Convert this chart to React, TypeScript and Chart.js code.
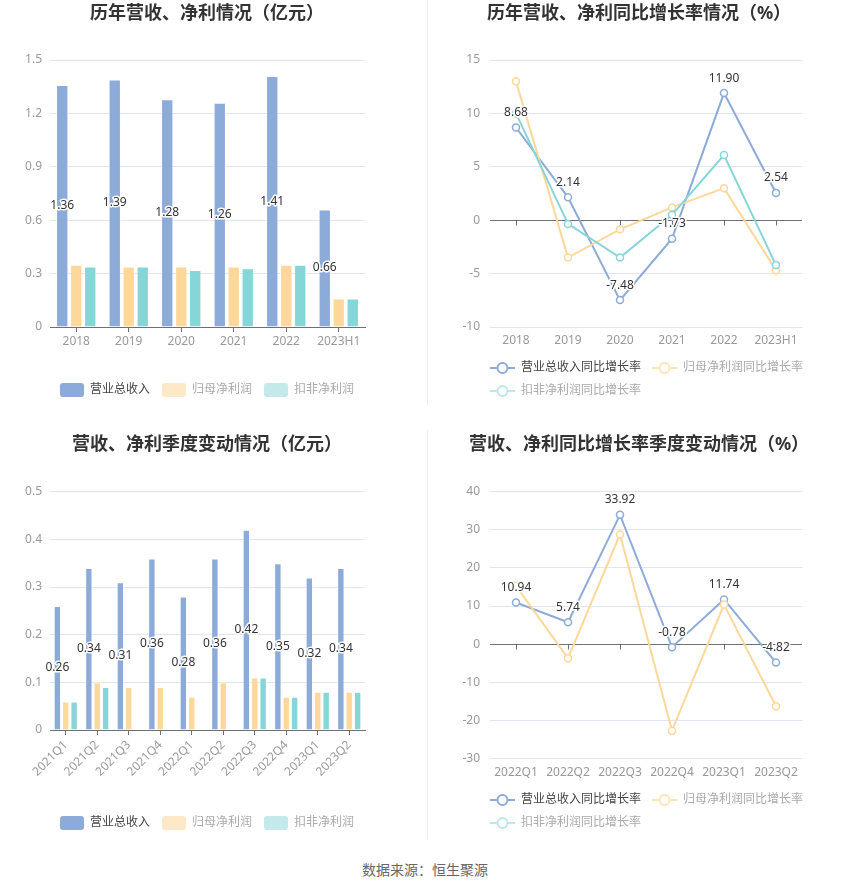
import React, { useEffect, useRef } from 'react';
import { Chart, registerables } from 'chart.js';

Chart.register(...registerables);

const FONT = "'Noto Sans', 'Noto Sans CJK SC', sans-serif";

// ---------- data ----------
const yearCats = ['2018', '2019', '2020', '2021', '2022', '2023H1'];
const yearRevenue = [1.36, 1.39, 1.28, 1.26, 1.41, 0.66];
const yearNetProfit = [0.35, 0.34, 0.34, 0.34, 0.35, 0.16];
const yearDeducted = [0.34, 0.34, 0.32, 0.33, 0.35, 0.16];
const yearBarTicks = [0, 0.3, 0.6, 0.9, 1.2, 1.5];

const yearRevGrowth = [8.68, 2.14, -7.48, -1.73, 11.9, 2.54];
const yearNetGrowth = [13.0, -3.5, -0.85, 1.2, 3.0, -4.7];
const yearDedGrowth = [10.0, -0.35, -3.5, 0.5, 6.1, -4.2];
const yearGrowthTicks = [-10, -5, 0, 5, 10, 15];

const quarterCats = ['2021Q1', '2021Q2', '2021Q3', '2021Q4', '2022Q1', '2022Q2', '2022Q3', '2022Q4', '2023Q1', '2023Q2'];
const quarterRevenue = [0.26, 0.34, 0.31, 0.36, 0.28, 0.36, 0.42, 0.35, 0.32, 0.34];
const quarterNetProfit = [0.06, 0.1, 0.09, 0.09, 0.07, 0.1, 0.11, 0.07, 0.08, 0.08];
const quarterDeducted = [0.06, 0.09, null, null, null, null, 0.11, 0.07, 0.08, 0.08];
const quarterBarTicks = [0, 0.1, 0.2, 0.3, 0.4, 0.5];

const growthQuarterCats = ['2022Q1', '2022Q2', '2022Q3', '2022Q4', '2023Q1', '2023Q2'];
const quarterRevGrowth = [10.94, 5.74, 33.92, -0.78, 11.74, -4.82];
const quarterNetGrowth = [15.3, -3.7, 28.8, -22.7, 10.4, -16.3];
const quarterDedGrowth = [null, null, null, null, null, null];
const quarterGrowthTicks = [-30, -20, -10, 0, 10, 20, 30, 40];

const barLegendNames = ['营业总收入', '归母净利润', '扣非净利润'];
const lineLegendNames = ['营业总收入同比增长率', '归母净利润同比增长率', '扣非净利润同比增长率'];

// ---------- styles ----------
const GRID = '#e0e6f1';
const AXIS = '#6e7079';
const TICK = '#999';
const SERIES = ['#8cabd9', '#fdd89a', '#86d5d7'];
const LEGEND_SWATCH = ['#8cabd9', '#fde8c8', '#c3e9ea'];
const LEGEND_LINE = ['#8cabd9', '#fde3b8', '#bde8e8'];
const LEGEND_TEXT = ['#444', '#aaa', '#aaa'];

const fmt = (v: number) => String(Number(v.toFixed(2)));

// ---------- plugins ----------
const valueLabels = {
  id: 'valueLabels',
  afterDatasetsDraw(chart: any, _args: any, opts: any) {
    if (!opts || !opts.mode) return;
    const ctx = chart.ctx;
    const meta = chart.getDatasetMeta(0);
    const data = chart.data.datasets[0].data;
    ctx.save();
    ctx.font = `12px ${FONT}`;
    ctx.textAlign = 'center';
    ctx.textBaseline = 'middle';
    ctx.lineJoin = 'round';
    meta.data.forEach((el: any, i: number) => {
      const v = data[i];
      if (v == null) return;
      const x = el.x;
      const y = opts.mode === 'bar' ? (el.y + el.base) / 2 : el.y - 15;
      const t = v.toFixed(2);
      ctx.strokeStyle = '#fff';
      ctx.lineWidth = 3;
      ctx.strokeText(t, x, y);
      ctx.fillStyle = '#333';
      ctx.fillText(t, x, y);
    });
    ctx.restore();
  },
};

const zeroLine = {
  id: 'zeroLine',
  beforeDatasetsDraw(chart: any, _args: any, opts: any) {
    if (!opts || !opts.enabled) return;
    const { ctx, chartArea, scales } = chart;
    const y = Math.round(scales.y.getPixelForValue(0)) + 0.5;
    ctx.save();
    ctx.strokeStyle = AXIS;
    ctx.lineWidth = 1;
    ctx.beginPath();
    ctx.moveTo(chartArea.left, y);
    ctx.lineTo(chartArea.right, y);
    const n = chart.data.labels.length;
    for (let i = 0; i < n; i++) {
      const x = Math.round(scales.x.getPixelForValue(i)) + 0.5;
      ctx.moveTo(x, y);
      ctx.lineTo(x, y + 5);
    }
    ctx.stroke();
    ctx.restore();
  },
};

const legendShift = {
  id: 'legendShift',
  afterLayout(chart: any, _args: any, opts: any) {
    if (!opts || !opts.dx || !chart.legend) return;
    chart.legend.left += opts.dx;
    chart.legend.right += opts.dx;
  },
};

function lineMarker(color: string) {
  const c = document.createElement('canvas');
  c.width = 25;
  c.height = 14;
  const g = c.getContext('2d')!;
  g.strokeStyle = color;
  g.lineWidth = 2;
  g.beginPath();
  g.moveTo(0, 7);
  g.lineTo(25, 7);
  g.stroke();
  g.beginPath();
  g.arc(12.5, 7, 5, 0, Math.PI * 2);
  g.fillStyle = '#fff';
  g.fill();
  g.stroke();
  return c;
}

type Layout = {
  title: string;
  titleTop: number;
  titleBottom: number;
  padBottom: number;
  xHeight: number;
  yWidth: number;
  rWidth: number;
  xPad: number;
  rotate?: number;
};

function yScale(ticks: number[], width: number, pad: number) {
  return {
    type: 'linear',
    position: 'left',
    min: ticks[0],
    max: ticks[ticks.length - 1],
    grid: { color: GRID, drawTicks: false },
    border: { display: false },
    ticks: { color: TICK, font: { size: 12, family: FONT }, padding: pad, callback: (v: number) => fmt(v) },
    afterBuildTicks: (s: any) => {
      s.ticks = ticks.map((v) => ({ value: v }));
    },
    afterFit: (s: any) => {
      s.width = width;
    },
  };
}

function rightDummy(width: number) {
  return {
    type: 'linear',
    position: 'right',
    display: true,
    grid: { display: false, drawTicks: false },
    border: { display: false },
    ticks: { display: false },
    afterFit: (s: any) => {
      s.width = width;
    },
  };
}

function titleOpts(l: Layout) {
  return {
    display: true,
    text: l.title,
    color: '#333',
    font: { size: 18, weight: 'bold', family: FONT, lineHeight: 1.2 },
    padding: { top: l.titleTop, bottom: l.titleBottom },
  };
}

function buildBar(canvas: HTMLCanvasElement, cats: string[], series: (number | null)[][], ticks: number[], l: Layout) {
  const rot = l.rotate || 0;
  return new Chart(canvas, {
    type: 'bar',
    data: {
      labels: cats,
      datasets: series.map((d, i) => ({
        label: barLegendNames[i],
        data: d,
        backgroundColor: SERIES[i],
        borderColor: 'rgba(255,255,255,0.45)',
        borderWidth: 1,
        categoryPercentage: 0.8,
        barPercentage: 0.88,
        yAxisID: 'y',
      })),
    } as any,
    options: {
      animation: false,
      responsive: false,
      devicePixelRatio: 1,
      events: [],
      layout: { padding: { top: 0, left: 0, right: 0, bottom: l.padBottom } },
      scales: {
        x: {
          offset: true,
          grid: { display: true, drawOnChartArea: false, drawTicks: true, tickLength: 5, tickColor: AXIS, offset: false },
          border: { display: true, color: AXIS },
          ticks: {
            color: TICK,
            font: { size: 12, family: FONT },
            padding: l.xPad,
            minRotation: rot,
            maxRotation: rot,
            autoSkip: false,
          },
          afterFit: (s: any) => {
            s.height = l.xHeight;
          },
        },
        y: yScale(ticks, l.yWidth, 8),
        yR: rightDummy(l.rWidth),
      } as any,
      plugins: {
        title: titleOpts(l),
        legend: {
          position: 'bottom',
          align: 'center',
          labels: {
            boxWidth: 24,
            boxHeight: 14,
            padding: 12,
            useBorderRadius: true,
            borderRadius: 3,
            font: { size: 12, family: FONT },
            generateLabels: () =>
              barLegendNames.map((name, i) => ({
                text: name,
                fillStyle: LEGEND_SWATCH[i],
                strokeStyle: LEGEND_SWATCH[i],
                lineWidth: 0,
                borderRadius: 3,
                fontColor: LEGEND_TEXT[i],
                hidden: false,
                datasetIndex: i,
              })),
          },
        },
        tooltip: { enabled: false },
        valueLabels: { mode: 'bar' },
      } as any,
    },
    plugins: [valueLabels],
  });
}

function buildLine(canvas: HTMLCanvasElement, cats: string[], series: (number | null)[][], ticks: number[], l: Layout) {
  return new Chart(canvas, {
    type: 'line',
    data: {
      labels: cats,
      datasets: series.map((d, i) => ({
        label: lineLegendNames[i],
        data: d,
        borderColor: SERIES[i],
        backgroundColor: '#fff',
        pointBackgroundColor: '#fff',
        pointBorderColor: SERIES[i],
        pointRadius: 3.5,
        pointBorderWidth: 1.5,
        borderWidth: 2,
        tension: 0,
        order: 3 - i,
        yAxisID: 'y',
      })),
    } as any,
    options: {
      animation: false,
      responsive: false,
      devicePixelRatio: 1,
      events: [],
      layout: { padding: { top: 0, left: 0, right: 0, bottom: l.padBottom } },
      scales: {
        x: {
          offset: true,
          grid: { display: false, drawTicks: false },
          border: { display: false },
          ticks: { color: TICK, font: { size: 12, family: FONT }, padding: l.xPad, maxRotation: 0, autoSkip: false },
          afterFit: (s: any) => {
            s.height = l.xHeight;
          },
        },
        y: yScale(ticks, l.yWidth, 10),
        yR: rightDummy(l.rWidth),
      } as any,
      plugins: {
        title: titleOpts(l),
        legend: {
          position: 'bottom',
          align: 'start',
          labels: {
            usePointStyle: true,
            pointStyleWidth: 25,
            boxHeight: 12,
            padding: 11,
            font: { size: 12, family: FONT },
            generateLabels: () =>
              lineLegendNames.map((name, i) => ({
                text: name,
                fillStyle: '#fff',
                strokeStyle: LEGEND_LINE[i],
                lineWidth: 0,
                pointStyle: lineMarker(LEGEND_LINE[i]),
                fontColor: LEGEND_TEXT[i],
                hidden: false,
                datasetIndex: i,
              })),
          },
        },
        tooltip: { enabled: false },
        valueLabels: { mode: 'line' },
        zeroLine: { enabled: true },
        legendShift: { dx: 49 },
      } as any,
    },
    plugins: [zeroLine, valueLabels, legendShift],
  });
}

function ChartBox(props: { left: number; top: number; width: number; height: number; build: (c: HTMLCanvasElement) => Chart }) {
  const ref = useRef<HTMLCanvasElement>(null);
  useEffect(() => {
    const chart = props.build(ref.current!);
    return () => chart.destroy();
  }, []);
  return (
    <div style={{ position: 'absolute', left: props.left, top: props.top, width: props.width, height: props.height }}>
      <canvas ref={ref} width={props.width} height={props.height} style={{ display: 'block', width: props.width, height: props.height }} />
    </div>
  );
}

export default function App() {
  return (
    <div style={{ position: 'absolute', left: 0, top: 0, width: 850, height: 891, background: '#fff', overflow: 'hidden' }}>
      <ChartBox
        left={0}
        top={0}
        width={414}
        height={410}
        build={(c) =>
          buildBar(c, yearCats, [yearRevenue, yearNetProfit, yearDeducted], yearBarTicks, {
            title: '历年营收、净利情况（亿元）',
            titleTop: 3.2,
            titleBottom: 35.2,
            padBottom: 3,
            xHeight: 44,
            yWidth: 50,
            rWidth: 49,
            xPad: 2,
          })
        }
      />
      <ChartBox
        left={430}
        top={0}
        width={418}
        height={410}
        build={(c) =>
          buildLine(c, yearCats, [yearRevGrowth, yearNetGrowth, yearDedGrowth], yearGrowthTicks, {
            title: '历年营收、净利同比增长率情况（%）',
            titleTop: 3.2,
            titleBottom: 35.2,
            padBottom: 3,
            xHeight: 24,
            yWidth: 60,
            rWidth: 46,
            xPad: 6,
          })
        }
      />
      <ChartBox
        left={0}
        top={420}
        width={414}
        height={425}
        build={(c) =>
          buildBar(c, quarterCats, [quarterRevenue, quarterNetProfit, quarterDeducted], quarterBarTicks, {
            title: '营收、净利季度变动情况（亿元）',
            titleTop: 14.2,
            titleBottom: 35.9,
            padBottom: 5,
            xHeight: 74,
            yWidth: 50,
            rWidth: 49,
            xPad: 3,
            rotate: 45,
          })
        }
      />
      <ChartBox
        left={430}
        top={420}
        width={418}
        height={425}
        build={(c) =>
          buildLine(c, growthQuarterCats, [quarterRevGrowth, quarterNetGrowth, quarterDedGrowth], quarterGrowthTicks, {
            title: '营收、净利同比增长率季度变动情况（%）',
            titleTop: 14.2,
            titleBottom: 35.9,
            padBottom: 6,
            xHeight: 24.5,
            yWidth: 60,
            rWidth: 46,
            xPad: 6.5,
          })
        }
      />
      <div style={{ position: 'absolute', left: 427, top: 0, width: 1, height: 405, background: '#eeeeee' }} />
      <div style={{ position: 'absolute', left: 427, top: 430, width: 1, height: 410, background: '#eeeeee' }} />
      <div
        style={{
          position: 'absolute',
          left: 0,
          top: 861,
          width: 850,
          textAlign: 'center',
          fontSize: 14,
          lineHeight: '18px',
          color: '#666',
          fontFamily: FONT,
        }}
      >
        数据来源：恒生聚源
      </div>
    </div>
  );
}
